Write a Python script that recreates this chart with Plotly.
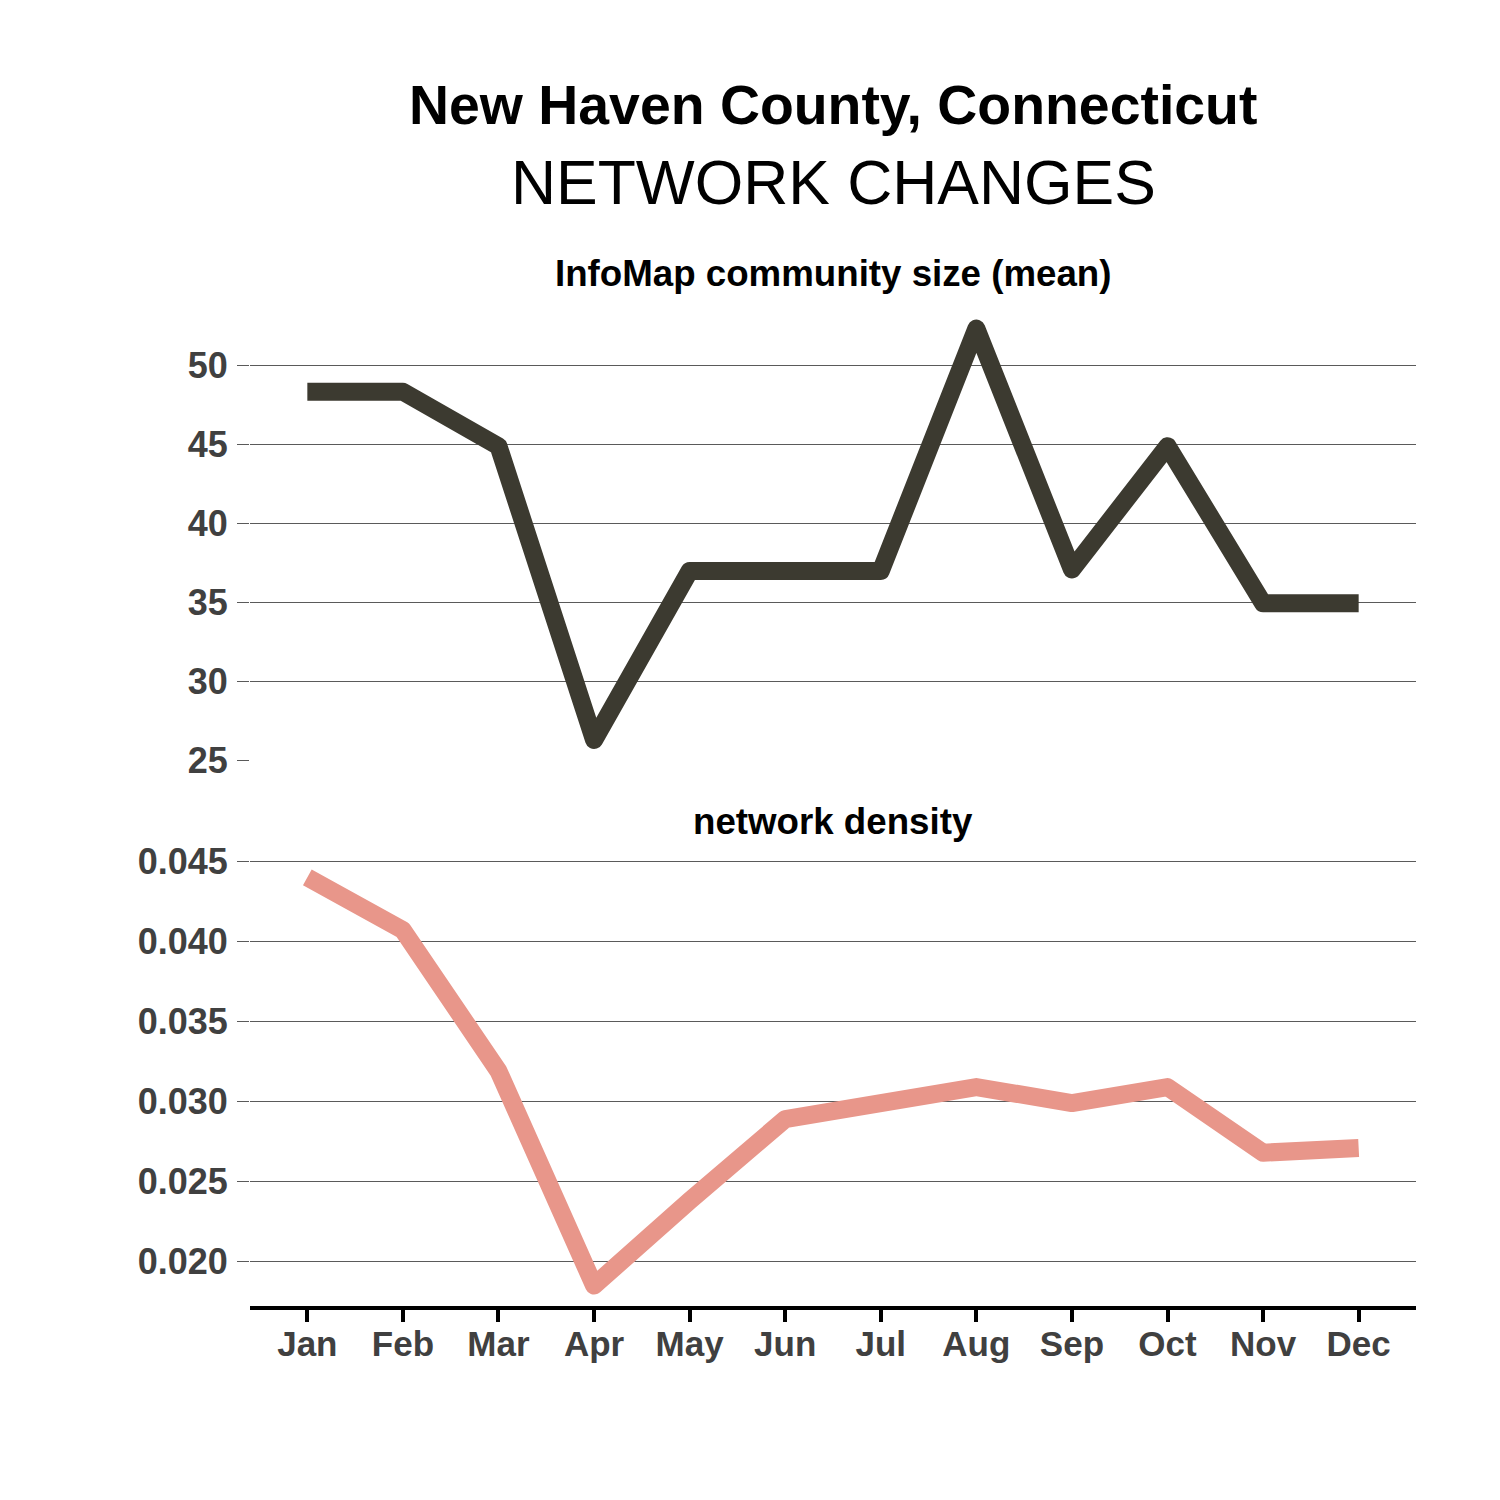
import plotly.graph_objects as go

months = ["Jan", "Feb", "Mar", "Apr", "May", "Jun", "Jul", "Aug", "Sep", "Oct", "Nov", "Dec"]
community_size = [48.35, 48.35, 44.9, 26.3, 37.0, 37.0, 37.0, 52.35, 37.1, 44.9, 34.95, 34.95]
density = [0.0440, 0.0407, 0.0319, 0.0185, 0.0238, 0.0289, 0.0299, 0.0309, 0.0299, 0.0309, 0.0268, 0.0271]

title_line1 = "New Haven County, Connecticut"
title_line2 = "NETWORK CHANGES"
panel_titles = ["InfoMap community size (mean)", "network density"]

FONT = "Liberation Sans, Arial, sans-serif"
TICK_COLOR = "#404040"
GRID_COLOR = "#5a5a5a"

fig = go.Figure()
fig.add_trace(go.Scatter(x=months, y=community_size, mode="lines",
                         line=dict(color="#3c3a30", width=18),
                         xaxis="x", yaxis="y", showlegend=False))
fig.add_trace(go.Scatter(x=months, y=density, mode="lines",
                         line=dict(color="#e8968a", width=18),
                         xaxis="x2", yaxis="y2", showlegend=False))

# page body has an 8px offset; figure coordinates = page coordinates - 8
OFF = 8
T, B = 308 - OFF, 1500 - (1306 - OFF)
H = 1500 - T - B

def py(p):
    return (1500 - B - (p - OFF)) / H

yaxis_common = dict(
    showgrid=True, gridcolor=GRID_COLOR, gridwidth=1,
    zeroline=False, showline=False,
    ticks="outside", ticklen=12, tickwidth=1, tickcolor=GRID_COLOR,
    tickfont=dict(family=FONT, size=36, color=TICK_COLOR, weight="bold"),
    ticklabelstandoff=2,
)

fig.update_layout(
    width=1500, height=1500,
    paper_bgcolor="white", plot_bgcolor="white",
    margin=dict(l=250 - OFF, r=1500 - (1416 - OFF), t=T, b=B),
    font=dict(family=FONT),
    xaxis=dict(domain=[0, 1], anchor="y", range=[-0.6, 11.6], type="category",
               showticklabels=False, showgrid=False, zeroline=False, showline=False,
               ticks=""),
    xaxis2=dict(domain=[0, 1], anchor="y2", range=[-0.6, 11.6], type="category",
                showgrid=False, zeroline=False, showline=True, linecolor="black", linewidth=4,
                ticks="outside", ticklen=12, tickwidth=4, tickcolor="black",
                ticklabelstandoff=-8,
                tickfont=dict(family=FONT, size=35, color=TICK_COLOR, weight="bold")),
    yaxis=dict(domain=[py(761), 1], anchor="x", range=[24.97, 53.65],
               tickvals=[25, 30, 35, 40, 45, 50], **yaxis_common),
    yaxis2=dict(domain=[0, py(857)], anchor="x2", range=[0.017225, 0.045275],
                tickvals=[0.020, 0.025, 0.030, 0.035, 0.040, 0.045], tickformat=".3f",
                **yaxis_common),
)

annos = [
    dict(text=title_line1, y=py(105), font=dict(size=55.4, color="black", weight="bold")),
    dict(text=title_line2, y=py(182), font=dict(size=62.4, color="black")),
    dict(text=panel_titles[0], y=py(273), font=dict(size=36.7, color="black", weight="bold")),
    dict(text=panel_titles[1], y=py(821), font=dict(size=36.7, color="black", weight="bold")),
]
for a in annos:
    fig.add_annotation(xref="paper", yref="paper", x=0.5, xanchor="center", yanchor="middle",
                       showarrow=False, text=a["text"], y=a["y"],
                       font=dict(family=FONT, **a["font"]))

post = """
document.querySelectorAll('.scatterlayer path.js-line').forEach(function(p){
  p.style.strokeLinejoin = 'round';
});
"""
fig.write_html("out.html", post_script=post)
